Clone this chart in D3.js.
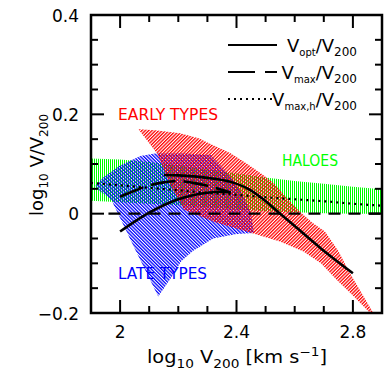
<!DOCTYPE html>
<html>
<head>
<meta charset="utf-8">
<script src="https://cdn.jsdelivr.net/npm/d3@7"></script>
<style>
  body { margin: 0; background: #fff; }
  svg { display: block; font-family: "DejaVu Sans", "Liberation Sans", sans-serif; }
</style>
</head>
<body>
<div id="chart"></div>
<script>
// ---- data ----
const haloX      = [1.9, 2.0, 2.1, 2.2, 2.3, 2.4, 2.5, 2.6, 2.7, 2.8, 2.9];
const haloUpper  = [0.111, 0.109, 0.104, 0.097, 0.089, 0.081, 0.073, 0.066, 0.060, 0.054, 0.049];
const haloLower  = [0.026, 0.023, 0.020, 0.017, 0.013, 0.009, 0.005, 0.003, 0.001, 0.000, 0.000];
const haloVmaxH  = [0.062, 0.057, 0.052, 0.047, 0.042, 0.038, 0.033, 0.029, 0.025, 0.020, 0.016];

// late types envelope (outline)
const lateEnvelope = [
  [1.915, 0.056], [1.94, 0.072], [2.0, 0.097], [2.07, 0.116], [2.12, 0.121],
  [2.22, 0.121], [2.31, 0.118], [2.34, 0.100], [2.38, 0.075], [2.42, 0.040],
  [2.45, 0.000], [2.46, -0.039], [2.40, -0.041], [2.32, -0.050], [2.25, -0.075],
  [2.21, -0.096], [2.18, -0.125], [2.131, -0.167], [2.05, -0.070], [1.97, 0.028],
  [1.93, 0.046]
];

// early types envelope (outline)
const earlyEnvelope = [
  [2.063, 0.170], [2.12, 0.168], [2.206, 0.162], [2.27, 0.152], [2.32, 0.138],
  [2.378, 0.122], [2.435, 0.101], [2.492, 0.078], [2.53, 0.060], [2.575, 0.030],
  [2.618, 0.004], [2.66, -0.018], [2.704, -0.036], [2.75, -0.075], [2.79, -0.120],
  [2.87, -0.200], [2.859, -0.200], [2.80, -0.165], [2.744, -0.133], [2.69, -0.100],
  [2.63, -0.076], [2.549, -0.056], [2.435, -0.036], [2.33, -0.018], [2.22, 0.008],
  [2.17, 0.060], [2.126, 0.122]
];

const lateVopt  = [[2.0, -0.036], [2.05, -0.016], [2.1, 0.002], [2.15, 0.017], [2.2, 0.029],
                   [2.25, 0.037], [2.3, 0.042], [2.35, 0.044], [2.38, 0.043]];
const lateVmax  = [[2.0, 0.034], [2.05, 0.046], [2.1, 0.057], [2.15, 0.063], [2.2, 0.066],
                   [2.25, 0.062], [2.3, 0.056], [2.35, 0.048], [2.38, 0.042]];
const earlyVopt = [[2.15, 0.078], [2.2, 0.077], [2.3, 0.072], [2.38, 0.064], [2.44, 0.050],
                   [2.49, 0.030], [2.54, 0.005], [2.6, -0.025], [2.69, -0.070], [2.8, -0.120]];
const zeroLine  = [[1.96, 0], [2.9, 0]];

const xTicks = [2.0, 2.1, 2.2, 2.3, 2.4, 2.5, 2.6, 2.7, 2.8];
const xLabels = [2.0, 2.4, 2.8];
const yTicks = [-0.15, -0.1, -0.05, 0, 0.05, 0.1, 0.15, 0.2, 0.25, 0.3, 0.35];
const yLabels = [-0.2, 0, 0.2, 0.4];

const legendItems = [
  {sub: "opt",    dash: null},
  {sub: "max",    dash: "27,10"},
  {sub: "max,h",  dash: "2,4"}
];

// ---- setup ----
const width = 390, height = 376;
const svg = d3.select("#chart").append("svg")
    .attr("width", width)
    .attr("height", height);

const x = d3.scaleLinear().domain([1.9, 2.9]).range([91, 382]);
const y = d3.scaleLinear().domain([-0.2, 0.4]).range([313, 15]);

// hatch patterns
const defs = svg.append("defs");
function hatch(id, color, angle, step, lw) {
    const p = defs.append("pattern")
        .attr("id", id)
        .attr("patternUnits", "userSpaceOnUse")
        .attr("width", step).attr("height", 10)
        .attr("patternTransform", `rotate(${angle})`);
    p.append("rect")
        .attr("x", 0).attr("y", 0)
        .attr("width", lw).attr("height", 10)
        .attr("fill", color);
}
hatch("hBlue", "#0000ff", -45, 2.4, 1.3);
hatch("hRed", "#ff0000", 45, 2.4, 1.3);

// green: plain vertical pixel stripes
const pg = defs.append("pattern").attr("id", "hGreen")
    .attr("patternUnits", "userSpaceOnUse").attr("width", 2).attr("height", 2);
pg.append("rect").attr("x", 0).attr("y", 0).attr("width", 1).attr("height", 2)
    .attr("shape-rendering", "crispEdges").attr("fill", "#00ff00");

svg.append("clipPath").attr("id", "clip")
    .append("rect").attr("x", 91).attr("y", 15).attr("width", 291).attr("height", 298);
const inner = svg.append("g").attr("clip-path", "url(#clip)");

// halo band
const area = d3.area()
    .x((d, i) => x(haloX[i]))
    .y0((d, i) => y(haloLower[i]))
    .y1((d, i) => y(haloUpper[i]));
inner.append("path").datum(haloX).attr("d", area).attr("fill", "url(#hGreen)");

const poly = d3.line().x(d => x(d[0])).y(d => y(d[1])).curve(d3.curveLinearClosed);
inner.append("path").datum(lateEnvelope).attr("d", poly).attr("fill", "url(#hBlue)");
inner.append("path").datum(earlyEnvelope).attr("d", poly).attr("fill", "url(#hRed)");

// curves
const line = d3.line().x(d => x(d[0])).y(d => y(d[1])).curve(d3.curveMonotoneX);
inner.append("path").datum(zeroLine).attr("d", line)
    .attr("fill", "none").attr("stroke", "#000").attr("stroke-width", 2.2)
    .attr("stroke-dasharray", "12,8");
inner.append("path").datum(haloX.map((v, i) => [v, haloVmaxH[i]])).attr("d", line)
    .attr("fill", "none").attr("stroke", "#000").attr("stroke-width", 2.2)
    .attr("stroke-dasharray", "2,4");
inner.append("path").datum(lateVopt).attr("d", line)
    .attr("fill", "none").attr("stroke", "#000").attr("stroke-width", 2.6);
inner.append("path").datum(lateVmax).attr("d", line)
    .attr("fill", "none").attr("stroke", "#000").attr("stroke-width", 2.6)
    .attr("stroke-dasharray", "25,8");
inner.append("path").datum(earlyVopt).attr("d", line)
    .attr("fill", "none").attr("stroke", "#000").attr("stroke-width", 2.6);

// frame
svg.append("rect")
    .attr("x", 91).attr("y", 15).attr("width", 291).attr("height", 298)
    .attr("fill", "none").attr("stroke", "#000").attr("stroke-width", 2.5);

// ticks on all four sides, pointing inward
const isMajorX = v => xLabels.some(l => Math.abs(l - v) < 1e-6);
const isMajorY = v => yLabels.some(l => Math.abs(l - v) < 1e-6);
const ticks = svg.append("g").attr("stroke", "#000").attr("stroke-width", 2);
xTicks.forEach(v => {
    const len = isMajorX(v) ? 13 : 7;
    ticks.append("line").attr("x1", x(v)).attr("x2", x(v)).attr("y1", 313).attr("y2", 313 - len);
    ticks.append("line").attr("x1", x(v)).attr("x2", x(v)).attr("y1", 15).attr("y2", 15 + len);
});
yTicks.forEach(v => {
    const len = isMajorY(v) ? 13 : 7;
    ticks.append("line").attr("y1", y(v)).attr("y2", y(v)).attr("x1", 91).attr("x2", 91 + len);
    ticks.append("line").attr("y1", y(v)).attr("y2", y(v)).attr("x1", 382).attr("x2", 382 - len);
});

// tick labels
const fmt = v => String(+v.toFixed(1)).replace("-", "\u2212");
svg.append("g").selectAll("text").data(xLabels).join("text")
    .attr("x", d => x(d)).attr("y", 338)
    .attr("text-anchor", "middle").attr("font-size", 17)
    .text(d => fmt(d));
svg.append("g").selectAll("text").data(yLabels).join("text")
    .attr("x", 79).attr("y", d => y(d) + 6.5)
    .attr("text-anchor", "end").attr("font-size", 17)
    .text(d => fmt(d));

// axis titles
const xt = svg.append("text").attr("x", 237).attr("y", 363)
    .attr("text-anchor", "middle").attr("font-size", 17)
    .attr("textLength", 180).attr("lengthAdjust", "spacingAndGlyphs");
xt.append("tspan").text("log");
xt.append("tspan").attr("font-size", 12).attr("dy", 5).text("10");
xt.append("tspan").attr("dy", -5).text(" V");
xt.append("tspan").attr("font-size", 12).attr("dy", 5).text("200");
xt.append("tspan").attr("dy", -5).text(" [km s");
xt.append("tspan").attr("font-size", 12).attr("dy", -7).text("\u22121");
xt.append("tspan").attr("dy", 7).text("]");

const yt = svg.append("text")
    .attr("transform", "translate(43,165) rotate(-90)")
    .attr("text-anchor", "middle").attr("font-size", 18);
yt.append("tspan").text("log");
yt.append("tspan").attr("font-size", 12).attr("dy", 5).text("10");
yt.append("tspan").attr("dy", -5).text(" V/V");
yt.append("tspan").attr("font-size", 12).attr("dy", 5).text("200");

// region labels
svg.append("text").attr("x", 118).attr("y", 120).attr("font-size", 16)
    .attr("textLength", 100).attr("lengthAdjust", "spacingAndGlyphs")
    .attr("fill", "#ff0000").text("EARLY TYPES");
svg.append("text").attr("x", 282).attr("y", 166).attr("font-size", 16)
    .attr("textLength", 56).attr("lengthAdjust", "spacingAndGlyphs")
    .attr("fill", "#00ff00").text("HALOES");
svg.append("text").attr("x", 118).attr("y", 279).attr("font-size", 16)
    .attr("textLength", 89).attr("lengthAdjust", "spacingAndGlyphs")
    .attr("fill", "#0000ff").text("LATE TYPES");

// legend
const leg = svg.append("g");
legendItems.forEach((d, i) => {
    const ly = 45 + i * 27;
    leg.append("line").attr("x1", 228).attr("x2", i === 2 ? 273 : 277)
        .attr("y1", ly).attr("y2", ly)
        .attr("stroke", "#000").attr("stroke-width", 2.2)
        .attr("stroke-dasharray", d.dash);
    const t = leg.append("text").attr("x", 357).attr("y", ly + 7)
        .attr("text-anchor", "end").attr("font-size", 18);
    t.append("tspan").text("V");
    t.append("tspan").attr("font-size", 10).attr("dy", 4).text(d.sub);
    t.append("tspan").attr("dy", -4).text("/V");
    t.append("tspan").attr("font-size", 12).attr("dy", 4).text("200");
});
</script>
</body>
</html>
